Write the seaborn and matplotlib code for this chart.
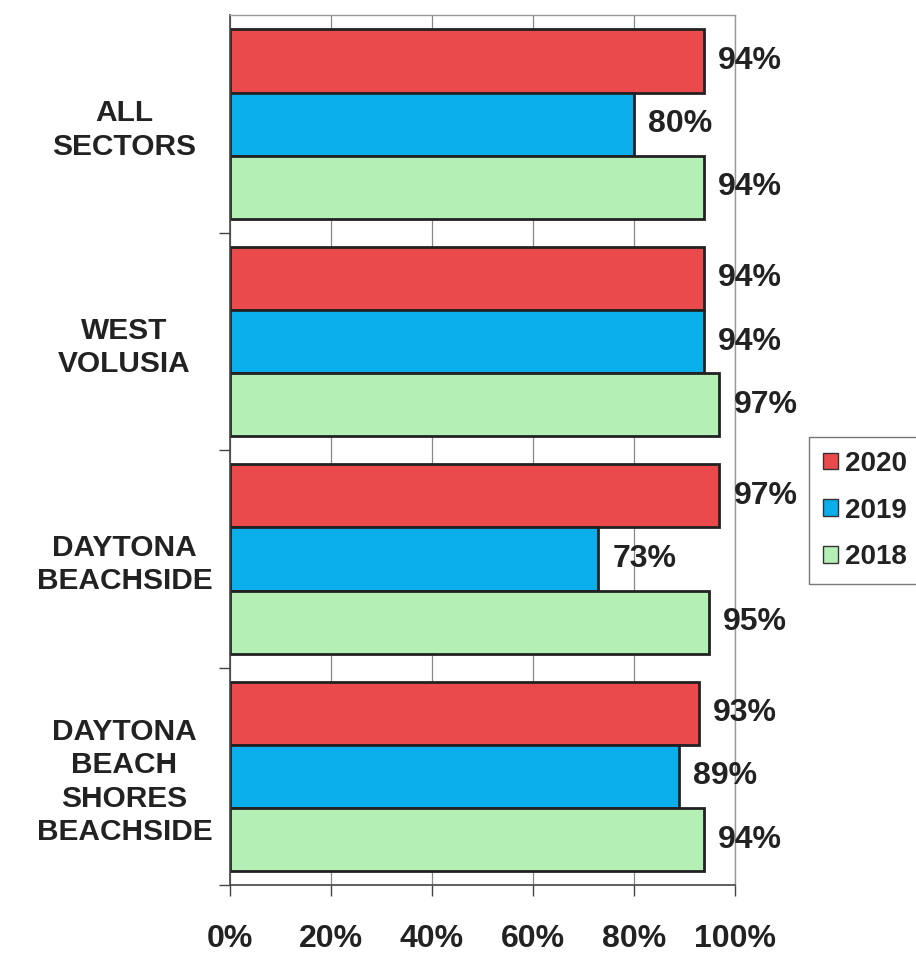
import pandas as pd
import matplotlib.pyplot as plt
import seaborn as sns
from matplotlib.patches import Patch

sectors = ["ALL\nSECTORS", "WEST\nVOLUSIA", "DAYTONA\nBEACHSIDE",
           "DAYTONA\nBEACH\nSHORES\nBEACHSIDE"]
years = ["2020", "2019", "2018"]
vals_2020 = [94, 94, 97, 93]
vals_2019 = [80, 94, 73, 89]
vals_2018 = [94, 97, 95, 94]
colors = {"2020": "#EA4A4C", "2019": "#0AAEEA", "2018": "#B4F0B6"}

rows = []
for yr, vals in zip(years, [vals_2020, vals_2019, vals_2018]):
    for s, v in zip(sectors, vals):
        rows.append({"sector": s, "year": yr, "value": v})
df = pd.DataFrame(rows)

sns.set_theme(style="white")
plt.rcParams['font.family'] = ['Liberation Sans', 'DejaVu Sans']

fig = plt.figure(figsize=(9.16, 9.58), dpi=100)
ax = fig.add_axes([0.251, 0.076, 0.551, 0.908])

sns.barplot(data=df, y="sector", x="value", hue="year", hue_order=years,
            order=sectors, palette=colors, orient="h", width=0.87,
            edgecolor="#222222", linewidth=2, saturation=1, ax=ax, legend=False)

for cont in ax.containers:
    ax.bar_label(cont, labels=[f"{int(v)}%" for v in cont.datavalues],
                 padding=10, fontsize=23, fontweight="bold", color="#222222")

ax.set_xlim(0, 100)
ax.set_ylim(3.5, -0.5)
ax.set_xticks([0, 20, 40, 60, 80, 100])
ax.set_xticklabels([f"{t}%" for t in range(0, 101, 20)], fontsize=23,
                   fontweight="bold", color="#222222")
ax.tick_params(axis="x", pad=20, length=8, width=1, color="#444444",
               direction="out", bottom=True)
ax.set_yticks(range(len(sectors)))
ax.set_yticklabels(sectors, fontsize=21.5, fontweight="bold", color="#222222",
                   ha="center", linespacing=1.25)
ax.tick_params(axis="y", pad=76, length=0)
ax.set_yticks([0.5, 1.5, 2.5, 3.5], minor=True)
ax.tick_params(axis="y", which="minor", length=8, width=1, color="#444444",
               direction="out", left=True)
ax.set_xlabel("")
ax.set_ylabel("")
ax.xaxis.grid(True, color="#888888", linewidth=0.9)
ax.set_axisbelow(True)
for side in ["top", "right"]:
    ax.spines[side].set_color("#999999")
    ax.spines[side].set_linewidth(1)
for side in ["left", "bottom"]:
    ax.spines[side].set_color("#444444")
    ax.spines[side].set_linewidth(1.2)

handles = [Patch(facecolor=colors[y], edgecolor="#333333", linewidth=1, label=y)
           for y in years]
leg = fig.legend(handles=handles, loc="center left", bbox_to_anchor=(0.868, 0.467),
                 frameon=True, fancybox=False, edgecolor="#555555",
                 prop={"size": 20, "weight": "bold"}, handlelength=0.55,
                 handleheight=0.55, handletextpad=0.25, labelspacing=0.75,
                 borderpad=0.5)
for t in leg.get_texts():
    t.set_color("#222222")

fig.savefig("out.png", dpi=100)
